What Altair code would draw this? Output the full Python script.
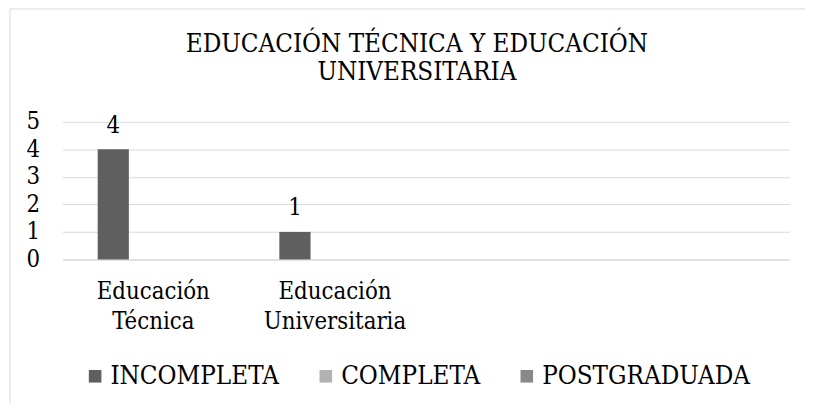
import altair as alt
import pandas as pd

categories = ["Educación Técnica", "Educación Universitaria", " ", "  "]
series = ["INCOMPLETA", "COMPLETA", "POSTGRADUADA"]
incompleta = [4, 1, None, None]
completa = [None, None, None, None]
postgraduada = [None, None, None, None]
colors = ["#5f5f5f", "#b2b2b2", "#898989"]

rows = []
for name, vals in zip(series, [incompleta, completa, postgraduada]):
    for c, v in zip(categories, vals):
        if v is not None:
            rows.append({"categoria": c, "serie": name, "valor": v})
df = pd.DataFrame(rows)

FONT = "DejaVu Serif Condensed"
FS = 24

x_enc = alt.X("categoria:N", sort=categories,
              scale=alt.Scale(domain=categories, paddingInner=0, paddingOuter=0),
              axis=alt.Axis(title=None, ticks=False, labelAngle=0, labelFontSize=FS,
                            labelFont=FONT, labelColor="#000000", labelLineHeight=31,
                            labelPadding=20, domainColor="#d9d9d9", domainWidth=1,
                            labelExpr="split(datum.label, ' ')"))
xoff_enc = alt.XOffset("serie:N", sort=series,
                       scale=alt.Scale(domain=series, paddingInner=0.171, paddingOuter=1, align=0.468))
y_enc = alt.Y("valor:Q",
              scale=alt.Scale(domain=[0, 5], nice=False),
              axis=alt.Axis(title=None, values=[0, 1, 2, 3, 4, 5], ticks=False, domain=False,
                            labelFontSize=FS, labelFont=FONT, labelColor="#000000",
                            labelPadding=23, gridColor="#d9d9d9", gridWidth=1))

base = alt.Chart(df)

bars = base.mark_bar().encode(
    x=x_enc, xOffset=xoff_enc, y=y_enc,
    color=alt.Color("serie:N", sort=series,
                    scale=alt.Scale(domain=series, range=colors),
                    legend=alt.Legend(title=None, orient="none", legendX=20, legendY=244,
                                      direction="horizontal", symbolType="square",
                                      symbolSize=161, symbolStrokeWidth=0, padding=0,
                                      labelFont=FONT, labelFontSize=26, labelColor="#000000",
                                      labelOffset=2.5, columnPadding=34, labelLimit=400)),
)

labels = base.mark_text(font=FONT, fontSize=FS, color="#000000", baseline="alphabetic", dy=-17).encode(
    x=x_enc, xOffset=xoff_enc, y=y_enc, text=alt.Text("valor:Q"),
)

frame = alt.Chart(alt.Data(values=[{"f": 1}])).mark_rect(
    fillOpacity=0, stroke="#d9d9d9", strokeWidth=1
).encode(x=alt.value(-53), x2=alt.value(770), y=alt.value(-114), y2=alt.value(300))

chart = alt.layer(frame, bars, labels).properties(
    width=734, height=139,
    autosize=alt.AutoSizeParams(type="none"),
    padding={"left": 55, "top": 113, "right": 16, "bottom": 143},
    title=alt.Title(["EDUCACIÓN TÉCNICA Y EDUCACIÓN", "UNIVERSITARIA"], font=FONT, fontSize=26,
                    fontWeight="normal", color="#000000", lineHeight=28.5, anchor="middle",
                    dx=-9, dy=103, offset=0, baseline="bottom"),
).configure_view(stroke=None)

chart.save("out.html", embed_options={"renderer": "svg", "actions": False})
